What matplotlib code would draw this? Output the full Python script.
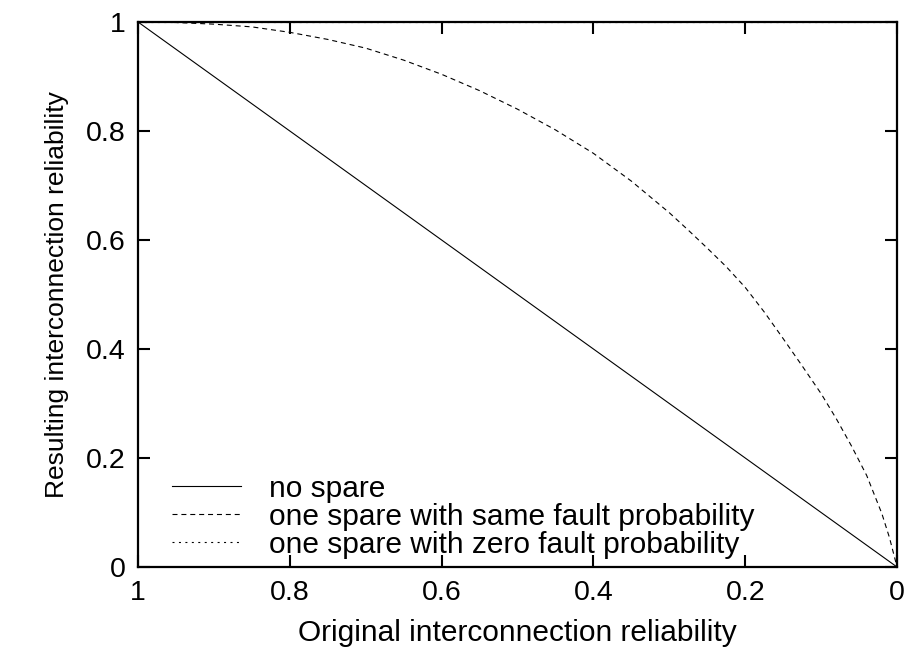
import numpy as np
import matplotlib.pyplot as plt

plt.rcParams['font.family'] = ['Liberation Sans', 'DejaVu Sans']

# original reliability (x axis, reversed)
orig = [1.0, 0.95, 0.9, 0.85, 0.8, 0.75, 0.7, 0.65, 0.6, 0.55, 0.5,
        0.45, 0.4, 0.35, 0.3, 0.275, 0.25, 0.225, 0.2, 0.175, 0.15,
        0.125, 0.1, 0.08, 0.06, 0.04, 0.02, 0.01, 0.0]
no_spare = list(orig)
same_fault = [1.0, 0.999, 0.996, 0.991, 0.981, 0.968, 0.952, 0.930, 0.904, 0.874, 0.840,
              0.802, 0.759, 0.708, 0.650, 0.618, 0.585, 0.551, 0.513, 0.468, 0.419,
              0.369, 0.318, 0.272, 0.222, 0.168, 0.098, 0.054, 0.0]
zero_fault = [1.0] * len(orig)

fig = plt.figure(figsize=(9.12, 6.54), dpi=100)
ax = fig.add_axes([0.1513, 0.133, 0.8323, 0.8334])

ax.plot(orig, no_spare, color='black', lw=0.8, ls='-', label='no spare')
ax.plot(orig, same_fault, color='black', lw=0.8, ls=(0, (4.5, 3.5)),
        label='one spare with same fault probability')
ax.plot(orig, zero_fault, color='black', lw=0.8, ls=(0, (1.8, 4)),
        label='one spare with zero fault probability')

ax.set_xlim(1, 0)
ax.set_ylim(0, 1)
ax.set_xticks([1, 0.8, 0.6, 0.4, 0.2, 0])
ax.set_xticklabels(['1', '0.8', '0.6', '0.4', '0.2', '0'])
ax.set_yticks([0, 0.2, 0.4, 0.6, 0.8, 1])
ax.set_yticklabels(['0', '0.2', '0.4', '0.6', '0.8', '1'])
ax.tick_params(direction='in', length=8.5, width=1.5, labelsize=20.5,
               top=True, right=True, pad=9)
for s in ax.spines.values():
    s.set_linewidth(1.6)

ax.set_xlabel('Original interconnection reliability', fontsize=21.5, labelpad=10)
ax.set_ylabel('Resulting interconnection reliability', fontsize=19, labelpad=12)

ax.legend(loc='lower left', bbox_to_anchor=(0.045, 0.015), frameon=False,
          borderaxespad=0, borderpad=0, fontsize=21.5,
          handlelength=2.3, handletextpad=0.95, labelspacing=0.0)

fig.savefig('out.png', dpi=100)
